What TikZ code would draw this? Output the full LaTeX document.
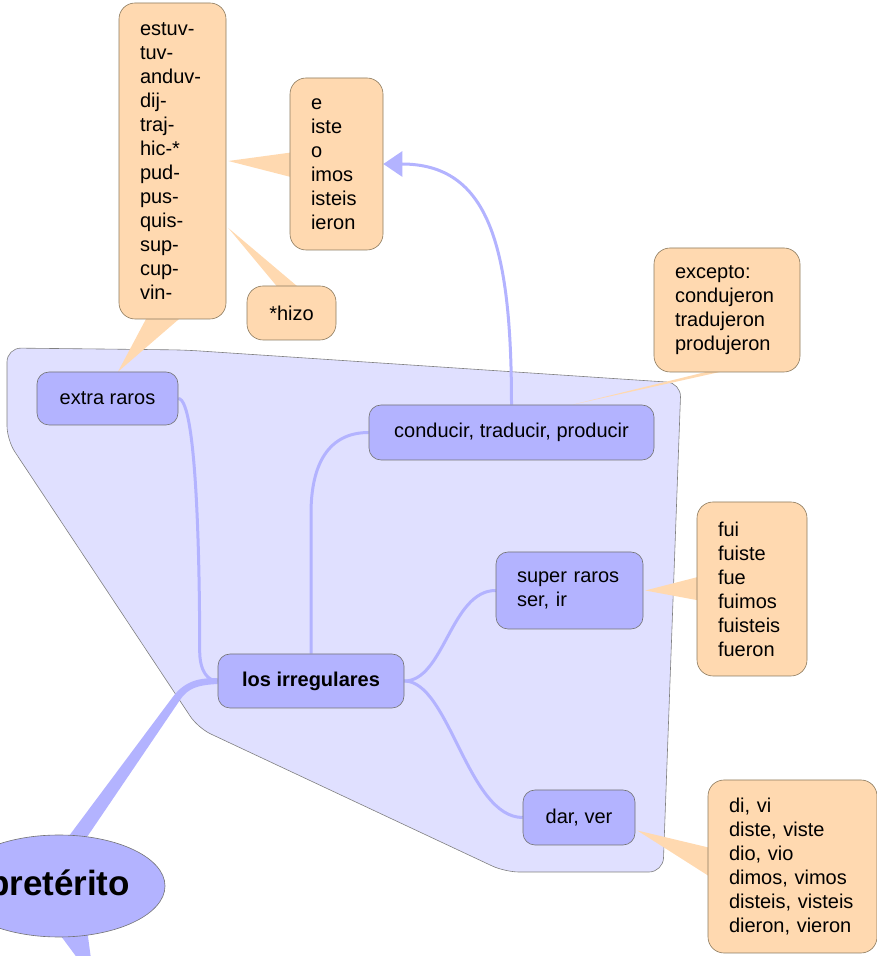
\documentclass[tikz,border=0pt]{standalone}
\usepackage{fontspec}
\setmainfont{Liberation Sans}
\usepackage{xcolor}
\usepackage{tikz}
\usetikzlibrary{arrows.meta, shapes.geometric, backgrounds}
\definecolor{grpfill}{HTML}{E0E0FF}
\definecolor{topicblue}{HTML}{B3B3FF}
\definecolor{noteorange}{HTML}{FFD9B0}
\definecolor{noteline}{HTML}{8C7A5E}

\begin{document}
\begin{tikzpicture}[
    x=1pt, y=1pt,
    font=\fontsize{20}{24}\selectfont,
    topic/.style={draw=black!55, line width=0.6pt, fill=topicblue, rounded corners=12pt, align=center, inner sep=0pt},
    note/.style={draw=noteline, line width=0.6pt, fill=noteorange, rounded corners=16pt, align=left, inner xsep=21pt, inner ysep=0pt},
    group/.style={draw=black!50, line width=0.6pt, fill=grpfill, rounded corners=14pt},
    branch/.style={draw=topicblue, line width=3pt},
    notewedge/.style={fill=noteorange}
  ]
    \useasboundingbox (0,0) rectangle (877,956);

    % notes
    \node[note, text width=65pt, minimum height=316pt] (stems) at (172.5,795) {estuv-\\tuv-\\anduv-\\dij-\\traj-\\hic-*\\pud-\\pus-\\quis-\\sup-\\cup-\\vin-};
    \node[note, text width=51pt, minimum height=172pt] (endings) at (336.5,792) {e\\iste\\o\\imos\\isteis\\ieron};
    \node[note, align=center, inner xsep=0pt, minimum width=89pt, minimum height=54pt] (hizo) at (291.5,643) {*hizo};
    \node[note, text width=104pt, minimum height=124pt] (excepto) at (727,646) {excepto:\\condujeron\\tradujeron\\produjeron};
    \node[note, text width=68pt, minimum height=174pt] (fui) at (752,367) {fui\\fuiste\\fue\\fuimos\\fuisteis\\fueron};
    \node[note, text width=127pt, minimum height=173pt] (divi) at (792.5,89.5) {di, vi\\diste, viste\\dio, vio\\dimos, vimos\\disteis, visteis\\dieron, vieron};

    % topics
    \node[topic, minimum width=141pt, minimum height=53pt] (extra) at (107.5,557.5) {extra raros};
    \node[topic, minimum width=285pt, minimum height=55pt] (cond) at (511.5,523.5) {conducir, traducir, producir};
    \node[topic, align=left, text width=105pt, inner xsep=21pt, minimum height=77pt] (super) at (569.5,365.5) {super raros\\ser, ir};
    \node[topic, minimum width=186pt, minimum height=54pt, font=\fontsize{20}{24}\selectfont\bfseries] (irr) at (311,275) {los irregulares};
    \node[topic, minimum width=112pt, minimum height=55pt] (dar) at (579,138.5) {dar, ver};
    \node[topic, ellipse, minimum width=212pt, minimum height=102pt, font=\fontsize{35}{40}\selectfont\bfseries] (pret) at (59,70) {pretérito};

    \begin{pgfonlayer}{background}
      \path[group] (100,607) -- (185,606) -- (681,573) -- (663,84) -- (505,84) -- (198,228) -- (7,516) -- (7,608) -- cycle;

      % callout wedges
      \fill[notewedge] ([xshift=10.5pt]extra.north) -- ([xshift=-24pt,yshift=5pt]stems.south) -- ([xshift=12pt,yshift=5pt]stems.south) -- cycle;
      \fill[notewedge] ([xshift=2pt]stems.east) -- ([xshift=5pt,yshift=12pt]endings.west) -- ([xshift=5pt,yshift=-14pt]endings.west) -- cycle;
      \fill[notewedge] ([xshift=2pt,yshift=-67pt]stems.east) -- ([xshift=-11pt,yshift=-5pt]hizo.north) -- ([xshift=11pt,yshift=-5pt]hizo.north) -- cycle;
      \fill[notewedge] ([xshift=61pt]cond.north) -- ([xshift=-2pt,yshift=5pt]excepto.south) -- ([xshift=14pt,yshift=5pt]excepto.south) -- cycle;
      \fill[notewedge] ([xshift=2pt]super.east) -- ([xshift=5pt,yshift=13pt]fui.west) -- ([xshift=5pt,yshift=-12pt]fui.west) -- cycle;
      \fill[notewedge] ([xshift=2pt,yshift=-13pt]dar.east) -- ([xshift=5pt,yshift=18pt]divi.west) -- ([xshift=5pt,yshift=-12pt]divi.west) -- cycle;

      % branches
      \draw[branch] (extra.east) .. controls +(20,0) and +(0,60) .. ([xshift=-18pt,yshift=30pt]irr.west) .. controls +(0,-20) and +(-10,0) .. (irr.west);
      \draw[branch] (irr.north) -- ++(0,140) .. controls +(0,50) and +(-40,0) .. (cond.west);
      \draw[branch] (irr.east) .. controls +(40,0) and +(-45,0) .. (super.west);
      \draw[branch] (irr.east) .. controls +(45,0) and +(-55,0) .. (dar.west);
      \draw[branch, -{Triangle[length=19pt, width=25pt]}] (cond.north) .. controls +(0,160) and +(105,0) .. (endings.east);

      % thick main branches
      \fill[topicblue] ([xshift=-4pt,yshift=-20pt]pret.north) -- (172,258) .. controls (185,276) and (200,278) .. ([yshift=3pt]irr.west)
        -- ([yshift=-3pt]irr.west) .. controls (198,271) and (188,268) .. (180,256) -- ([xshift=16pt,yshift=-20pt]pret.north) -- cycle;
      \fill[topicblue] ([xshift=-9pt,yshift=16pt]pret.south) -- (78,-3) -- (91,-3) -- ([xshift=27pt,yshift=16pt]pret.south) -- cycle;
    \end{pgfonlayer}
  \end{tikzpicture}
\end{document}
